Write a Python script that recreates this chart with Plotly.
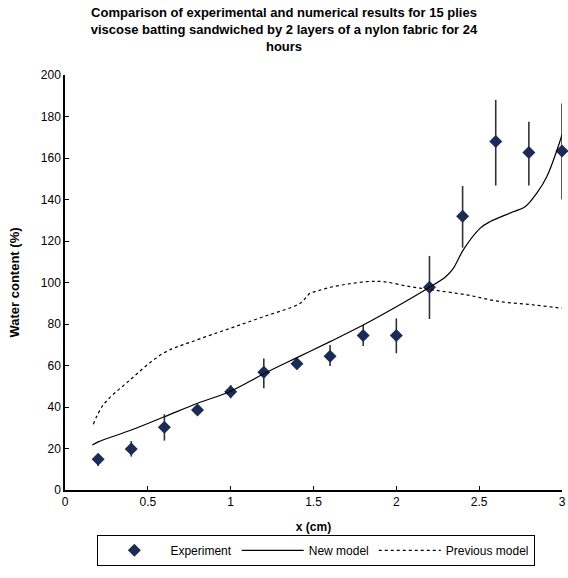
import plotly.graph_objects as go

# Experimental data
exp_x = [0.2, 0.4, 0.6, 0.8, 1.0, 1.2, 1.4, 1.6, 1.8, 2.0, 2.2, 2.4, 2.6, 2.8, 3.0]
exp_y = [14.8, 19.8, 30.2, 38.6, 47.4, 56.7, 60.9, 64.4, 74.4, 74.4, 97.7, 131.9, 167.9, 162.6, 163.4]
exp_err_plus = [2.5, 3.8, 6.3, 2.0, 3.2, 6.7, 2.5, 5.5, 5.1, 8.3, 15.1, 14.6, 20.1, 14.9, 22.9]
exp_err_minus = [3.2, 3.7, 6.4, 2.0, 3.2, 7.7, 2.7, 4.6, 5.0, 8.5, 15.3, 15.1, 21.2, 15.9, 23.4]

# New model (solid line)
new_x = [0.165, 0.2, 0.4, 0.6, 0.8, 1.0, 1.2, 1.4, 1.6, 1.8, 2.0, 2.2, 2.298, 2.344, 2.404,
         2.505, 2.565, 2.706, 2.777, 2.847, 2.908, 3.0]
new_y = [21.7, 23.2, 28.9, 35.3, 41.8, 47.6, 56.0, 63.8, 71.5, 79.5, 88.3, 97.7, 102.8, 106.8,
         115.7, 126.1, 129.3, 134.1, 136.5, 143.0, 151.0, 171.1]

# Previous model (dotted line)
prev_x = [0.171, 0.231, 0.392, 0.593, 0.795, 0.996, 1.197, 1.419, 1.479, 1.509, 1.62, 1.821,
          1.921, 2.083, 2.223, 2.425, 2.626, 2.827, 3.0]
prev_y = [31.7, 41.0, 53.0, 65.9, 72.3, 77.9, 83.5, 90.0, 94.8, 95.6, 98.0, 100.4,
          100.4, 98.0, 96.4, 94.0, 90.8, 89.2, 87.6]

x_ticks = [0, 0.5, 1, 1.5, 2, 2.5, 3]
y_ticks = [0, 20, 40, 60, 80, 100, 120, 140, 160, 180, 200]

font = "Liberation Sans, Arial, sans-serif"

fig = go.Figure()
fig.add_trace(go.Scatter(
    x=exp_x, y=exp_y, mode="markers", name="Experiment", cliponaxis=False,
    marker=dict(symbol="diamond", size=10, color="#1c2a56"),
    error_y=dict(type="data", symmetric=False, array=exp_err_plus, arrayminus=exp_err_minus,
                 color="#333333", thickness=1.6, width=0),
))
fig.add_trace(go.Scatter(
    x=new_x, y=new_y, mode="lines", name="New model", line_shape="spline", cliponaxis=False,
    line=dict(color="black", width=1.2),
))
fig.add_trace(go.Scatter(
    x=prev_x, y=prev_y, mode="lines", name="Previous model", line_shape="spline", cliponaxis=False,
    line=dict(color="black", width=1.2, dash="dot"),
))

fig.update_layout(
    width=568, height=578,
    margin=dict(l=65, r=6, t=75, b=88, autoexpand=False),
    paper_bgcolor="white", plot_bgcolor="white",
    font=dict(family=font, size=12, color="black"),
    title=dict(
        text="<b>Comparison of experimental and numerical results for 15 plies<br>"
             "viscose batting sandwiched by 2 layers of a nylon fabric for 24<br>hours</b>",
        x=0.5, xref="container", xanchor="center", y=0.971, yref="container", yanchor="top",
        font=dict(size=13, family=font),
    ),
    xaxis=dict(
        range=[0, 3], tickvals=x_ticks, ticktext=[str(v) for v in x_ticks],
        showgrid=False, zeroline=False, showline=True, linecolor="black", linewidth=1.5,
        ticks="inside", ticklen=4, tickcolor="black", automargin=False,
        title=dict(text="<b>x (cm)</b>", font=dict(size=12), standoff=14),
        tickfont=dict(size=12),
    ),
    yaxis=dict(
        range=[0, 200], tickvals=y_ticks,
        showgrid=False, zeroline=False, showline=True, linecolor="black", linewidth=1.5,
        ticks="inside", ticklen=4, tickcolor="black", automargin=False,
        title=dict(text="<b>Water content (%)</b>", font=dict(size=13), standoff=18),
        tickfont=dict(size=12),
    ),
    legend=dict(
        orientation="h", x=0.557, xref="container", xanchor="center",
        y=0.021, yref="container", yanchor="bottom",
        bordercolor="black", borderwidth=1, bgcolor="white",
        font=dict(size=12), itemwidth=62, tracegroupgap=0,
    ),
    showlegend=True,
)

fig.write_html("out.html", config={"displayModeBar": False},
               post_script="document.body.style.margin='0';")
